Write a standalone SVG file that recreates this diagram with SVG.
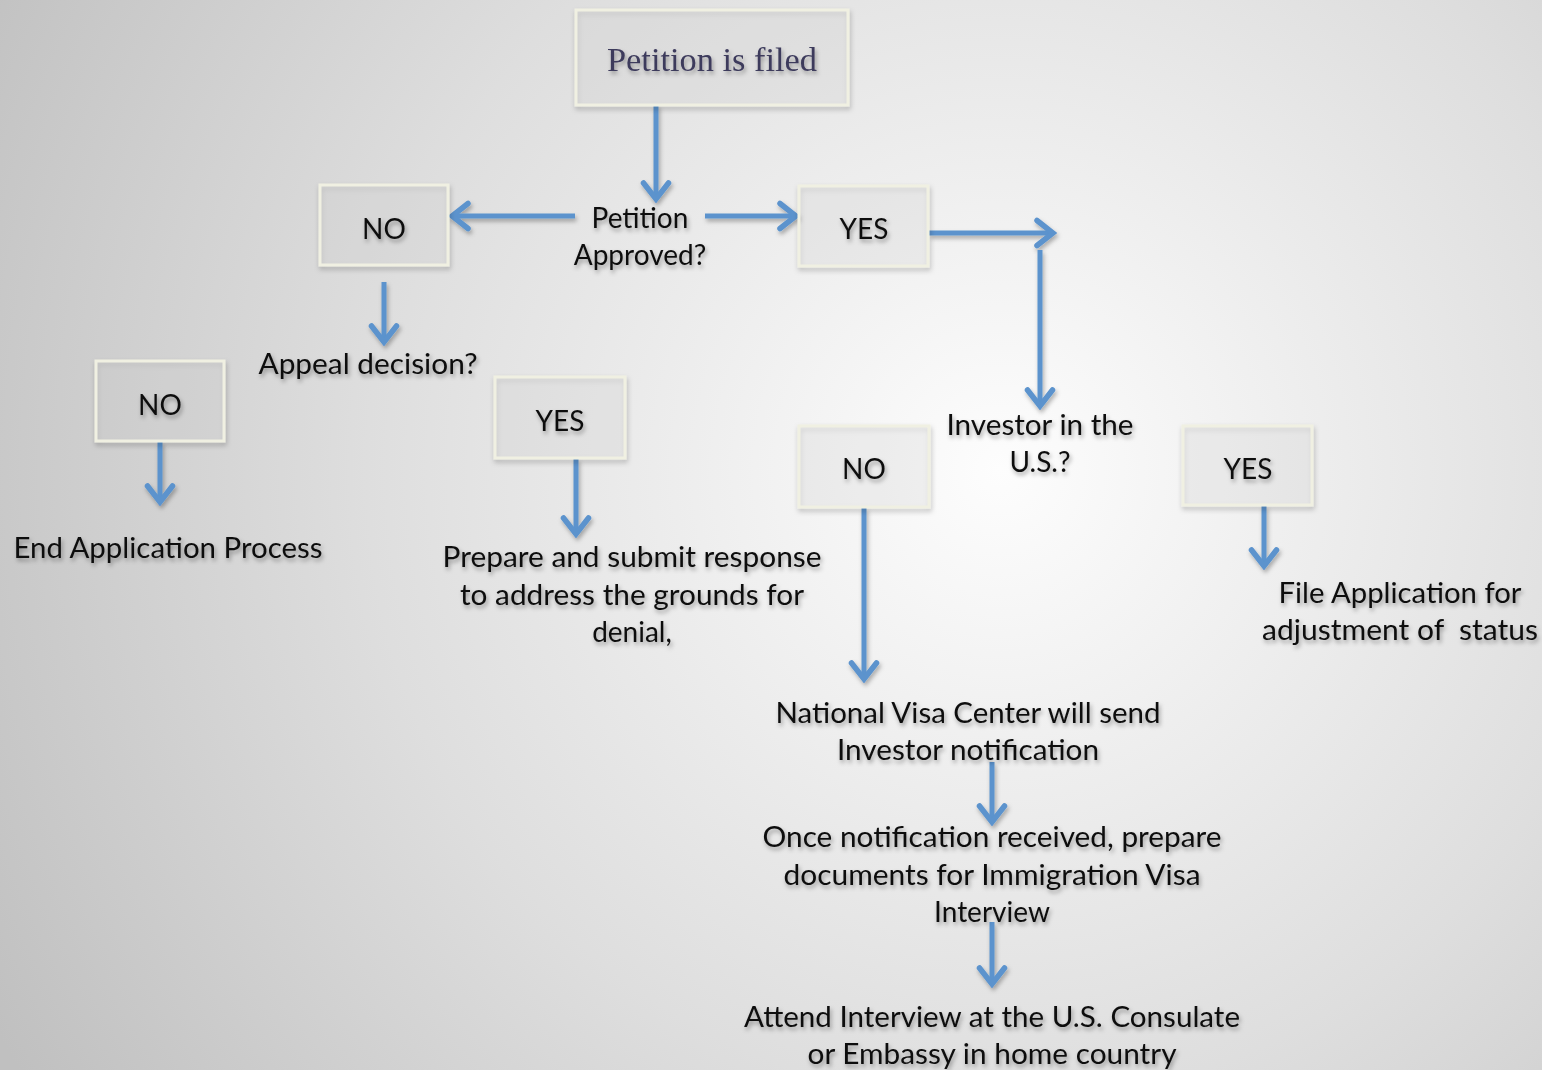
<svg xmlns="http://www.w3.org/2000/svg" width="1542" height="1070" viewBox="0 0 1542 1070">
<defs>
<radialGradient id="bg" cx="1000" cy="470" r="1150" gradientUnits="userSpaceOnUse">
<stop offset="0" stop-color="#fdfdfd"/>
<stop offset="0.55" stop-color="#dedede"/>
<stop offset="1" stop-color="#c0c0c0"/>
</radialGradient>
<filter id="sh" x="-20%" y="-40%" width="140%" height="180%">
<feDropShadow dx="1.5" dy="3" stdDeviation="2" flood-color="#000" flood-opacity="0.35"/>
</filter>
<filter id="lsh" filterUnits="userSpaceOnUse" x="0" y="0" width="1542" height="1070">
<feDropShadow dx="1.5" dy="3" stdDeviation="2" flood-color="#000" flood-opacity="0.3"/>
</filter>
<filter id="bsh" x="-20%" y="-20%" width="140%" height="140%">
<feDropShadow dx="1" dy="3" stdDeviation="2.5" flood-color="#000" flood-opacity="0.25"/>
</filter>
<marker id="ah" markerUnits="userSpaceOnUse" viewBox="-24 -16 28 32" markerWidth="28" markerHeight="32" refX="0" refY="0" orient="auto">
<path d="M-16,-12.5 L0,0 L-16,12.5" fill="none" stroke="#5b93cd" stroke-width="5.5" stroke-linecap="round" stroke-linejoin="miter"/>
</marker>
</defs>
<style>
.box{fill:#d8d8d8;fill-opacity:0.18;stroke:#f0f0e2;stroke-width:3;filter:url(#bsh)}
.t{font-family:Lato,"Open Sans","Liberation Sans",sans-serif;font-size:28px;fill:#111;text-anchor:middle;filter:url(#sh)}
.ti{font-family:"Liberation Serif","DejaVu Serif",serif;font-size:34px;fill:#3d3b5c;text-anchor:middle;filter:url(#sh)}
.c{filter:url(#lsh)}
.c line{stroke:#5b93cd;stroke-width:5;marker-end:url(#ah)}
</style>
<rect x="0" y="0" width="1542" height="1070" fill="url(#bg)"/>

<g id="connectors" class="c">
<line x1="656" y1="105" x2="656" y2="199"/>
<line x1="575" y1="216" x2="452" y2="216"/>
<line x1="705" y1="216" x2="796" y2="216"/>
<line x1="929" y1="233" x2="1053" y2="233"/>
<line x1="1040" y1="250" x2="1040" y2="406"/>
<line x1="384" y1="282" x2="384" y2="342"/>
<line x1="160" y1="442" x2="160" y2="502"/>
<line x1="576" y1="459" x2="576" y2="534"/>
<line x1="864" y1="508" x2="864" y2="679"/>
<line x1="1264" y1="506" x2="1264" y2="566"/>
<line x1="992" y1="762" x2="992" y2="822"/>
<line x1="992" y1="922" x2="992" y2="984"/>
</g>

<g id="petition-filed">
<rect class="box" x="576" y="10" width="272" height="95"/>
<text class="ti" x="712" y="71" textLength="210" lengthAdjust="spacingAndGlyphs">Petition is filed</text>
</g>
<g id="petition-approved">
<text class="t" x="640" y="228">Petition</text>
<text class="t" x="640" y="265">Approved?</text>
</g>
<g id="no1">
<rect class="box" x="320" y="185" width="128" height="80"/>
<text class="t" x="384" y="239">NO</text>
</g>
<g id="yes1">
<rect class="box" x="799" y="186" width="129" height="80"/>
<text class="t" x="864" y="239">YES</text>
</g>
<g id="appeal">
<text class="t" x="368" y="374" textLength="219" lengthAdjust="spacingAndGlyphs">Appeal decision?</text>
</g>
<g id="no2">
<rect class="box" x="96" y="361" width="128" height="80"/>
<text class="t" x="160" y="415">NO</text>
</g>
<g id="end">
<text class="t" x="168" y="558" textLength="309" lengthAdjust="spacingAndGlyphs">End Application Process</text>
</g>
<g id="yes2">
<rect class="box" x="495" y="377" width="130" height="81"/>
<text class="t" x="560" y="431">YES</text>
</g>
<g id="prepare">
<text class="t" x="632" y="567" textLength="379" lengthAdjust="spacingAndGlyphs">Prepare and submit response</text>
<text class="t" x="632" y="605" textLength="344" lengthAdjust="spacingAndGlyphs">to address the grounds for</text>
<text class="t" x="632" y="642">denial,</text>
</g>
<g id="investor">
<text class="t" x="1040" y="435" textLength="187" lengthAdjust="spacingAndGlyphs">Investor in the</text>
<text class="t" x="1040" y="472">U.S.?</text>
</g>
<g id="no3">
<rect class="box" x="799" y="426" width="130" height="81"/>
<text class="t" x="864" y="479">NO</text>
</g>
<g id="yes3">
<rect class="box" x="1183" y="426" width="129" height="79"/>
<text class="t" x="1248" y="479">YES</text>
</g>
<g id="file-adjustment">
<text class="t" x="1400" y="603" textLength="243" lengthAdjust="spacingAndGlyphs">File Application for</text>
<text class="t" x="1400" y="640" textLength="276" lengthAdjust="spacingAndGlyphs" xml:space="preserve">adjustment of  status</text>
</g>
<g id="nvc">
<text class="t" x="968" y="723" textLength="385" lengthAdjust="spacingAndGlyphs">National Visa Center will send</text>
<text class="t" x="968" y="760" textLength="262" lengthAdjust="spacingAndGlyphs">Investor notification</text>
</g>
<g id="once">
<text class="t" x="992" y="847" textLength="459" lengthAdjust="spacingAndGlyphs">Once notification received, prepare</text>
<text class="t" x="992" y="885" textLength="417" lengthAdjust="spacingAndGlyphs">documents for Immigration Visa</text>
<text class="t" x="992" y="922">Interview</text>
</g>
<g id="attend">
<text class="t" x="992" y="1027" textLength="496" lengthAdjust="spacingAndGlyphs">Attend Interview at the U.S. Consulate</text>
<text class="t" x="992" y="1064" textLength="369" lengthAdjust="spacingAndGlyphs">or Embassy in home country</text>
</g>
</svg>
